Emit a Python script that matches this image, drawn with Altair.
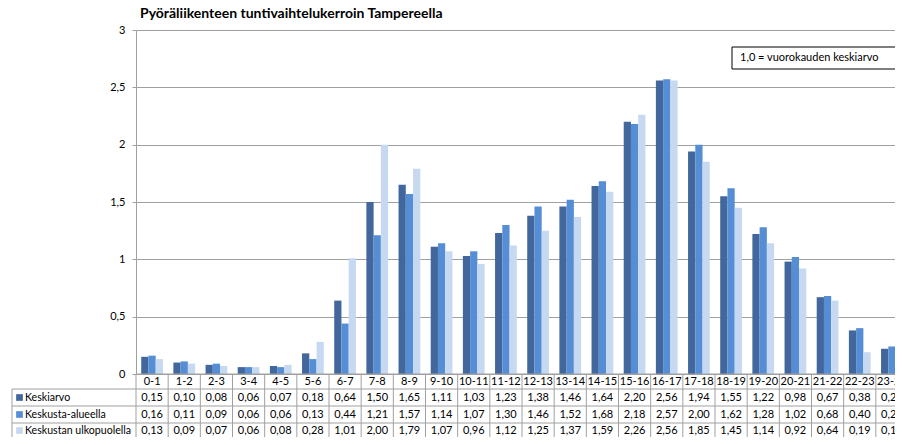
import altair as alt
import pandas as pd

hours = ["0-1", "1-2", "2-3", "3-4", "4-5", "5-6", "6-7", "7-8", "8-9", "9-10",
         "10-11", "11-12", "12-13", "13-14", "14-15", "15-16", "16-17", "17-18",
         "18-19", "19-20", "20-21", "21-22", "22-23", "23-24"]
series = ["Keskiarvo", "Keskusta-alueella", "Keskustan ulkopuolella"]
keskiarvo = [0.15, 0.10, 0.08, 0.06, 0.07, 0.18, 0.64, 1.50, 1.65, 1.11, 1.03, 1.23,
             1.38, 1.46, 1.64, 2.20, 2.56, 1.94, 1.55, 1.22, 0.98, 0.67, 0.38, 0.22]
keskusta = [0.16, 0.11, 0.09, 0.06, 0.06, 0.13, 0.44, 1.21, 1.57, 1.14, 1.07, 1.30,
            1.46, 1.52, 1.68, 2.18, 2.57, 2.00, 1.62, 1.28, 1.02, 0.68, 0.40, 0.24]
ulkopuolella = [0.13, 0.09, 0.07, 0.06, 0.08, 0.28, 1.01, 2.00, 1.79, 1.07, 0.96, 1.12,
                1.25, 1.37, 1.59, 2.26, 2.56, 1.85, 1.45, 1.14, 0.92, 0.64, 0.19, 0.12]
colors = ["#41679c", "#558ed5", "#c6d9f1"]
title_text = "Pyöräliikenteen tuntivaihtelukerroin Tampereella"
note_text = "1,0 = vuorokauden keskiarvo"
y_ticks = [0, 0.5, 1, 1.5, 2, 2.5, 3]

rows = []
for s, vals in zip(series, [keskiarvo, keskusta, ulkopuolella]):
    for h, v in zip(hours, vals):
        rows.append({"hour": h, "series": s, "value": v,
                     "label": f"{v:.2f}".replace(".", ",")})
df = pd.DataFrame(rows)
hours_df = pd.DataFrame({"hour": hours})
series_df = pd.DataFrame({"series": series})

W = 759          # visible plot width (the last category runs past the edge)
FULL_W = 772     # width of all 24 categories
PH = 344         # height of the bar area
H = 407          # view height incl. the data table (cut at the bottom)
FONT = "Lato"
LINE = "#a0a0a0"
dummy = alt.Data(values=[{}])

xscale = alt.Scale(domain=hours, range=[0, FULL_W], paddingInner=0, paddingOuter=0)
color = alt.Color("series:N", scale=alt.Scale(domain=series, range=colors), legend=None)

bars = alt.Chart(df).mark_bar().encode(
    x=alt.X("hour:N", sort=hours, scale=xscale, axis=None),
    xOffset=alt.XOffset("series:N", sort=series,
                        scale=alt.Scale(domain=series, paddingInner=0, paddingOuter=0.72)),
    y=alt.Y("value:Q", scale=alt.Scale(domain=[0, 3], nice=False, range=[PH, 0]),
            axis=alt.Axis(values=y_ticks, title=None, grid=True, gridColor=LINE,
                          domainColor=LINE, tickColor=LINE, tickSize=4, labelPadding=7,
                          labelFontSize=11, labelColor="#000000", labelFont=FONT,
                          labelExpr="replace(format(datum.value, ''), '.', ',')")),
    color=color,
)

layers = [bars]

# baseline of plot / top of table
layers.append(alt.Chart(dummy).mark_rule(color=LINE).encode(
    x=alt.value(0), x2=alt.value(W), y=alt.value(PH)))

# horizontal table lines
line_y = [PH + 15, PH + 32, PH + 49, PH + 66]
for yy in line_y:
    layers.append(alt.Chart(dummy).mark_rule(color=LINE).encode(
        x=alt.value(-124), x2=alt.value(W), y=alt.value(yy)))

# vertical table lines at category edges
layers.append(alt.Chart(hours_df).mark_rule(color=LINE).encode(
    x=alt.X("hour:N", sort=hours, scale=xscale, bandPosition=0, axis=None),
    y=alt.value(PH), y2=alt.value(H)))
layers.append(alt.Chart(dummy).mark_rule(color=LINE).encode(
    x=alt.value(-124), y=alt.value(line_y[0]), y2=alt.value(H)))

# header row
layers.append(alt.Chart(hours_df).mark_text(fontSize=11, font=FONT, color="#000000").encode(
    x=alt.X("hour:N", sort=hours, scale=xscale, axis=None),
    y=alt.value(PH + 7.5), text="hour:N"))

row_y = [PH + 23.5, PH + 40.5, PH + 56.5]
for s, yy in zip(series, row_y):
    layers.append(alt.Chart(df).transform_filter(alt.datum.series == s)
                  .mark_text(fontSize=11, font=FONT, color="#000000").encode(
        x=alt.X("hour:N", sort=hours, scale=xscale, axis=None),
        y=alt.value(yy), text="label:N"))
    layers.append(alt.Chart(series_df).transform_filter(alt.datum.series == s)
                  .mark_square(size=45, opacity=1).encode(
        x=alt.value(-116.5), y=alt.value(yy), color=color))
    layers.append(alt.Chart(series_df).transform_filter(alt.datum.series == s)
                  .mark_text(fontSize=10.6, font=FONT, align="left", color="#000000").encode(
        x=alt.value(-111), y=alt.value(yy), text="series:N"))

# title
layers.append(alt.Chart(dummy).mark_text(
    text=title_text, fontSize=14, fontWeight="bold", font=FONT, align="left",
    color="#000000").encode(x=alt.value(4), y=alt.value(-16)))

# note box
layers.append(alt.Chart(dummy).mark_rect(fill="white", stroke="#000000", strokeWidth=1).encode(
    x=alt.value(596), x2=alt.value(W + 20), y=alt.value(17), y2=alt.value(39)))
layers.append(alt.Chart(dummy).mark_text(
    text=note_text, fontSize=11, font=FONT, align="left", color="#000000").encode(
    x=alt.value(604), y=alt.value(28)))

chart = alt.layer(*layers).properties(
    width=W, height=H,
    autosize=alt.AutoSizeParams(type="none"),
    padding={"left": 128, "top": 22, "right": 0, "bottom": 0},
).configure_view(stroke=None)

chart.save("out.html", embed_options={"renderer": "svg", "actions": False})
